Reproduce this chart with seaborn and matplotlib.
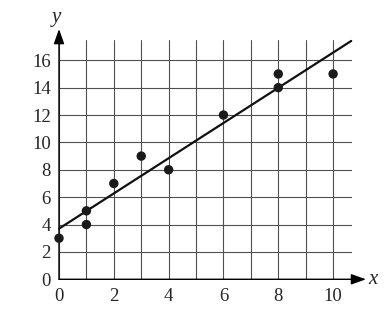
import matplotlib
matplotlib.use("Agg")
import matplotlib.pyplot as plt
import seaborn as sns
import pandas as pd

# data
x_vals = [0, 1, 1, 2, 3, 4, 6, 8, 8, 10]
y_vals = [3, 4, 5, 7, 9, 8, 12, 14, 15, 15]
line_x = [0, 10.66]
line_y = [3.7, 17.41]
x_ticks = list(range(0, 11))
x_tick_labels = [str(v) if v % 2 == 0 else "" for v in x_ticks]
y_ticks = list(range(0, 17, 2))
y_tick_labels = [str(v) for v in y_ticks]

sns.set_style("white")
plt.rcParams["font.family"] = ["Liberation Serif", "DejaVu Serif"]

fig = plt.figure(figsize=(3.88, 3.09), dpi=100)
ax = fig.add_axes([59 / 388, 29.7 / 309, 293.3 / 388, 239.3 / 309])

df = pd.DataFrame({"x": x_vals, "y": y_vals})
ax.set_xlim(0, 10.7)
ax.set_ylim(0, 17.48)

ax.set_xticks(x_ticks)
ax.set_xticklabels(x_tick_labels, fontsize=13.5)
ax.set_yticks(y_ticks)
ax.set_yticklabels(y_tick_labels, fontsize=13.5)
ax.tick_params(axis="both", length=4, width=0.8, color="#444444", direction="out", pad=2)
ax.grid(True, color="#505050", linewidth=0.8)
ax.set_axisbelow(True)
for s in ax.spines.values():
    s.set_visible(False)

# axes with arrows
ax.annotate("", xy=(11.2, 0), xytext=(0, 0), xycoords="data",
            arrowprops=dict(arrowstyle="-|>,head_length=0.9,head_width=0.32", color="black", lw=1.0,
                            shrinkA=0, shrinkB=0), annotation_clip=False)
ax.annotate("", xy=(0, 18.28), xytext=(0, 0), xycoords="data",
            arrowprops=dict(arrowstyle="-|>,head_length=0.9,head_width=0.32", color="black", lw=1.0,
                            shrinkA=0, shrinkB=0), annotation_clip=False)
ax.text(11.27, 0, "x", fontsize=15, fontstyle="italic", ha="left", va="center", clip_on=False)
ax.text(-0.08, 18.45, "y", fontsize=15, fontstyle="italic", ha="center", va="bottom", clip_on=False)

ax.plot(line_x, line_y, color="#111111", lw=1.6, clip_on=False, zorder=3)
sns.scatterplot(data=df, x="x", y="y", ax=ax, s=46, color="#1a1a1a", edgecolor="none",
                zorder=4, clip_on=False)
ax.set_xlabel("")
ax.set_ylabel("")

fig.savefig("out.png", dpi=100)
